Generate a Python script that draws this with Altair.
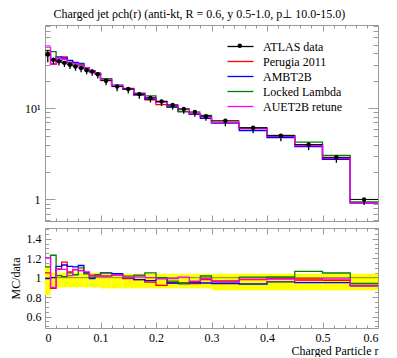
import altair as alt
import pandas as pd

# ---------------- data ----------------
bin_lo = [0.00, 0.01, 0.02, 0.03, 0.04, 0.05, 0.06, 0.07, 0.08, 0.09,
          0.10, 0.12, 0.14, 0.16, 0.18, 0.20, 0.22, 0.24, 0.26, 0.28,
          0.30, 0.35, 0.40, 0.45, 0.50, 0.55]
bin_hi = [0.01, 0.02, 0.03, 0.04, 0.05, 0.06, 0.07, 0.08, 0.09, 0.10,
          0.12, 0.14, 0.16, 0.18, 0.20, 0.22, 0.24, 0.26, 0.28, 0.30,
          0.35, 0.40, 0.45, 0.50, 0.55, 0.60]
atlas_rho = [39.0, 34.0, 32.8, 31.5, 30.0, 28.7, 27.7, 26.2, 25.3, 23.6,
             20.1, 17.3, 16.3, 14.3, 13.0, 11.9, 10.9, 9.8, 9.1, 8.2,
             7.3, 6.1, 5.0, 4.0, 2.9, 1.0]
# relative uncertainties (upper / lower)
err_up = [0.11, 0.05, 0.05, 0.05, 0.05, 0.05, 0.05, 0.05, 0.05, 0.05,
          0.04, 0.04, 0.04, 0.04, 0.04, 0.04, 0.04, 0.04, 0.04, 0.04,
          0.04, 0.04, 0.04, 0.04, 0.04, 0.04]
err_down = [0.18, 0.10, 0.10, 0.10, 0.10, 0.10, 0.10, 0.10, 0.10, 0.10,
            0.11, 0.11, 0.11, 0.11, 0.11, 0.11, 0.11, 0.11, 0.11, 0.11,
            0.13, 0.13, 0.13, 0.13, 0.13, 0.13]

series_names = ["Perugia 2011", "AMBT2B", "Locked Lambda", "AUET2B retune"]
ratio_perugia = [1.05, 0.89, 1.09, 1.16, 1.06, 1.08, 1.075, 1.055, 1.025, 1.015,
                 1.015, 1.025, 0.99, 0.98, 0.955, 0.92, 0.945, 0.945, 0.94, 0.98,
                 0.966, 0.98, 0.99, 0.986, 0.973, 0.92]
ratio_ambt2b = [0.99, 1.00, 1.115, 1.13, 1.115, 1.11, 1.125, 1.05, 0.99, 1.025,
                1.05, 1.04, 1.0, 0.98, 0.97, 0.99, 0.945, 0.94, 0.95, 0.945,
                0.94, 0.935, 0.956, 0.95, 0.95, 0.915]
ratio_locked = [1.11, 1.23, 1.02, 1.01, 1.05, 1.03, 1.10, 1.04, 1.0, 1.03,
                1.05, 1.025, 1.015, 1.025, 1.05, 1.0, 0.965, 0.94, 0.96, 1.017,
                0.956, 1.005, 1.007, 1.065, 1.048, 0.94]
ratio_auet2b = [1.205, 0.90, 1.085, 1.085, 1.02, 1.085, 1.07, 1.06, 1.015, 1.02,
                1.017, 1.025, 1.0, 1.015, 1.0, 0.99, 0.99, 1.005, 0.965, 0.99,
                0.956, 0.985, 0.985, 0.973, 0.986, 0.915]
ratios = [ratio_perugia, ratio_ambt2b, ratio_locked, ratio_auet2b]

legend_names = ["ATLAS data"] + series_names
legend_colors = ["#000000", "#ff0000", "#0000ff", "#008000", "#ff00ff"]

# ---------------- tables ----------------
n = len(bin_lo)
data_df = pd.DataFrame({
    "series": ["ATLAS data"] * n,
    "x_lo": bin_lo, "x_hi": bin_hi,
    "x_mid": [(a + b) / 2 for a, b in zip(bin_lo, bin_hi)],
    "y": atlas_rho,
    "y_lo": [v * (1 - d) for v, d in zip(atlas_rho, err_down)],
    "y_hi": [v * (1 + u) for v, u in zip(atlas_rho, err_up)],
    "r_lo": [1 - d for d in err_down],
    "r_hi": [1 + u for u in err_up],
    "one": [1.0] * n,
})

rows = []
for name, rat in zip(series_names, ratios):
    for i in range(n):
        rows.append({"series": name, "x": bin_lo[i], "r": rat[i],
                     "mc": rat[i] * atlas_rho[i], "ord": i})
    rows.append({"series": name, "x": bin_hi[-1], "r": rat[-1],
                 "mc": rat[-1] * atlas_rho[-1], "ord": n})
mc_df = pd.DataFrame(rows)

# ---------------- styling ----------------
SERIF = "Liberation Serif"
GREY = "#9a9a9a"
W, H_TOP, H_BOT = 333, 196, 100
LEG_X, LEG_Y = 188, 14

x_scale = alt.Scale(domain=[0, 0.6], nice=False, zero=False)
y_top_scale = alt.Scale(type="log", domain=[0.58, 82], nice=False)
y_bot_scale = alt.Scale(domain=[0.483, 1.51], nice=False, zero=False)

x_major = [0, 0.1, 0.2, 0.3, 0.4, 0.5, 0.6]
x_minor = [round(i * 0.02, 2) for i in range(31)]
y_top_major = [1, 10]
y_top_minor = [0.6, 0.7, 0.8, 0.9, 2, 3, 4, 5, 6, 7, 8, 9, 20, 30, 40, 50, 60, 70, 80]
y_bot_major = [0.6, 0.8, 1.0, 1.2, 1.4]
y_bot_minor = [round(0.5 + 0.05 * i, 2) for i in range(21)]


def ax(orient, values, size, labels=False, title=None, **kw):
    # ticks pointing inward: shift the axis inside by its tick length
    return alt.Axis(orient=orient, values=values, tickSize=size, offset=-size,
                    domain=False, grid=False, labels=labels, tickColor=GREY,
                    tickWidth=1, title=title, **kw)


color = alt.Color(
    "series:N",
    scale=alt.Scale(domain=legend_names, range=legend_colors),
    legend=alt.Legend(
        title=None, orient="none", legendX=LEG_X, legendY=LEG_Y, padding=0,
        symbolType="M-2,0L2,0", symbolSize=169, symbolStrokeWidth=1.3,
        labelFont=SERIF, labelFontSize=12, labelColor="black",
        labelOffset=15, rowPadding=1,
    ),
)

# ---------------- top panel ----------------
top_lines = alt.Chart(mc_df).mark_line(interpolate="step-after", strokeWidth=1.3, clip=True).encode(
    x=alt.X("x:Q", scale=x_scale, axis=ax("bottom", x_major, 6)),
    y=alt.Y("mc:Q", scale=y_top_scale,
            axis=ax("left", y_top_major, 10, labels=True, labelPadding=5,
                    labelExpr="datum.value == 10 ? '10¹' : '1'")),
    color=color,
    order=alt.Order("ord:Q"),
)
top_xerr = alt.Chart(data_df).mark_rule(color="black", strokeWidth=1, clip=True).encode(
    x=alt.X("x_lo:Q", scale=x_scale, axis=ax("bottom", x_minor, 3)),
    x2="x_hi:Q",
    y=alt.Y("y:Q", scale=y_top_scale, axis=ax("left", y_top_minor, 5)),
)
top_yerr = alt.Chart(data_df).mark_rule(color="black", strokeWidth=1.3, clip=True).encode(
    x=alt.X("x_mid:Q", scale=x_scale, axis=ax("top", x_major, 6)),
    y=alt.Y("y_lo:Q", scale=y_top_scale, axis=ax("right", y_top_major, 10)),
    y2="y_hi:Q",
)
top_pts = alt.Chart(data_df).mark_point(filled=True, color="black", size=20, opacity=1, clip=True).encode(
    x=alt.X("x_mid:Q", scale=x_scale, axis=ax("top", x_minor, 3)),
    y=alt.Y("y:Q", scale=y_top_scale, axis=ax("right", y_top_minor, 5)),
    # a one-entry legend that puts the data dot on top of the legend line
    shape=alt.Shape("series:N", scale=alt.Scale(domain=["ATLAS data"], range=["circle"]),
                    legend=alt.Legend(title=None, orient="none", legendX=LEG_X + 4.3,
                                      legendY=LEG_Y + 4.3, padding=0, symbolSize=20,
                                      symbolFillColor="black", symbolStrokeWidth=0,
                                      labelExpr="''", labelFontSize=1)),
)
top = alt.layer(top_lines, top_xerr, top_yerr, top_pts).resolve_axis(
    x="independent", y="independent").properties(width=W, height=H_TOP)

# ---------------- ratio panel ----------------
band = alt.Chart(data_df).mark_rect(color="#ffff00", clip=True).encode(
    x=alt.X("x_lo:Q", scale=x_scale,
            axis=ax("bottom", x_major, 6, labels=True, labelPadding=4, format="~g",
                    title="Charged Particle r", titleFont=SERIF, titleFontSize=12,
                    titleFontWeight="normal", titleAnchor="end", titlePadding=2)),
    x2="x_hi:Q",
    y=alt.Y("r_lo:Q", scale=y_bot_scale,
            axis=ax("left", y_bot_major, 6, labels=True, labelPadding=4, format="~g",
                    title="MC/data", titleFont=SERIF, titleFontSize=12,
                    titleFontWeight="normal", titlePadding=4)),
    y2="r_hi:Q",
)
unity = alt.Chart(data_df).mark_rule(color="#666666", strokeWidth=0.8, clip=True).encode(
    x=alt.X("x_lo:Q", scale=x_scale, axis=ax("top", x_major, 6)),
    x2="x_hi:Q",
    y=alt.Y("one:Q", scale=y_bot_scale, axis=ax("right", y_bot_major, 6)),
)
bot_lines = alt.Chart(mc_df).mark_line(interpolate="step-after", strokeWidth=1.3, clip=True).encode(
    x=alt.X("x:Q", scale=x_scale, axis=ax("bottom", x_minor, 3)),
    y=alt.Y("r:Q", scale=y_bot_scale, axis=ax("left", y_bot_minor, 3.5)),
    color=alt.Color("series:N", scale=alt.Scale(domain=legend_names, range=legend_colors), legend=None),
    order=alt.Order("ord:Q"),
)
ghost = alt.Chart(data_df).mark_rect(opacity=0, clip=True).encode(
    x=alt.X("x_lo:Q", scale=x_scale, axis=ax("top", x_minor, 3)),
    x2="x_hi:Q",
    y=alt.Y("r_lo:Q", scale=y_bot_scale, axis=ax("right", y_bot_minor, 3.5)),
    y2="r_hi:Q",
)
bottom = alt.layer(band, unity, bot_lines, ghost).resolve_axis(
    x="independent", y="independent").properties(width=W, height=H_BOT)

chart = alt.vconcat(top, bottom, spacing=5).resolve_legend(
    color="independent", shape="independent").properties(
    title=alt.TitleParams(
        text="Charged jet ρch(r) (anti-kt, R = 0.6, y 0.5-1.0, p⊥ 10.0-15.0)",
        anchor="start", font=SERIF, fontSize=12, fontWeight="normal",
        color="black", dx=45, dy=-3, offset=0),
    padding={"left": 0, "top": 0, "right": 0, "bottom": 0},
).configure_view(stroke=GREY, strokeWidth=1).configure_axis(
    labelFont=SERIF, labelFontSize=12, labelColor="black", titleColor="black",
)

chart.save("out.html", embed_options={"renderer": "svg", "actions": False})
